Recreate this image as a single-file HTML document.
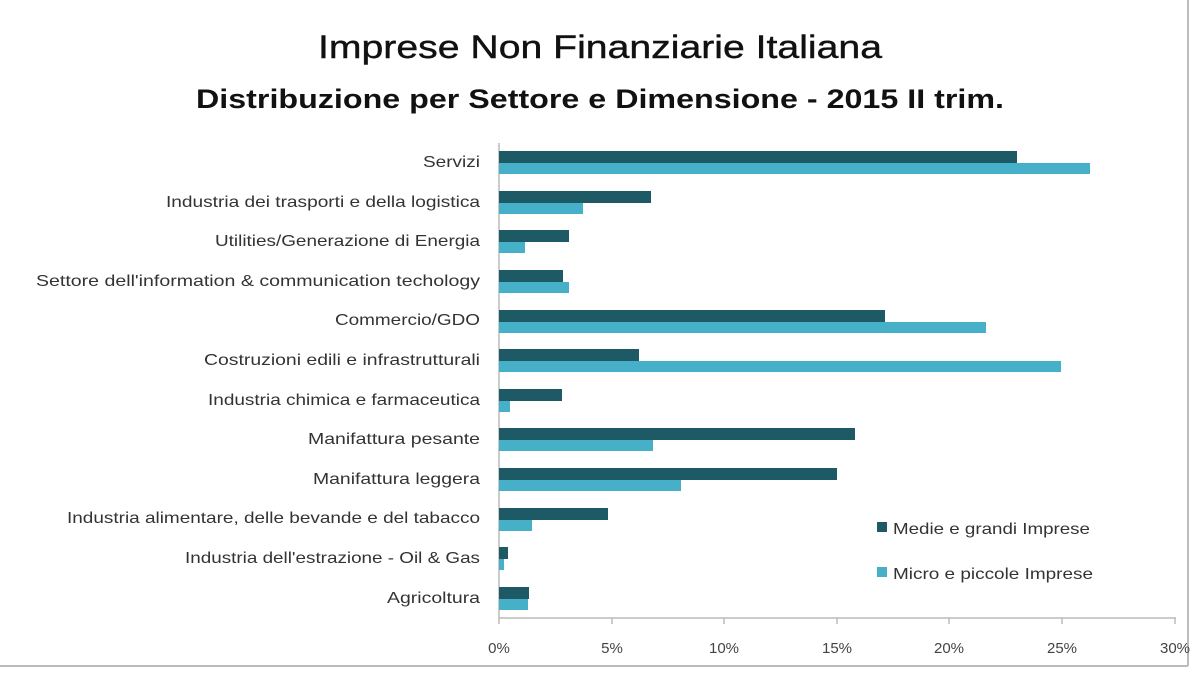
<!DOCTYPE html>
<html><head><meta charset="utf-8"><style>
html,body{margin:0;padding:0;background:#fff;}
svg{display:block;font-family:"Liberation Sans",sans-serif;}
</style></head><body>
<svg width="1200" height="676" viewBox="0 0 1200 676">
<rect x="0" y="0" width="1200" height="676" fill="#fff"/>
<line x1="1188" y1="0" x2="1188" y2="666" stroke="#bbb" stroke-width="2"/>
<line x1="0" y1="666" x2="1188" y2="666" stroke="#bbb" stroke-width="2"/>
<text x="600" y="58" text-anchor="middle" font-size="32" fill="#111" stroke="#111" stroke-width="0.4" textLength="564" lengthAdjust="spacingAndGlyphs">Imprese Non Finanziarie Italiana</text>
<text x="600" y="108" text-anchor="middle" font-size="27" font-weight="bold" fill="#111" textLength="808" lengthAdjust="spacingAndGlyphs">Distribuzione per Settore e Dimensione - 2015 II trim.</text>
<g stroke="#bbb" stroke-width="1.5">
<line x1="499" y1="143" x2="499" y2="618"/>
<line x1="499" y1="618" x2="1176" y2="618"/>
<line x1="612" y1="618" x2="612" y2="624"/><line x1="724" y1="618" x2="724" y2="624"/>
<line x1="837" y1="618" x2="837" y2="624"/><line x1="949" y1="618" x2="949" y2="624"/>
<line x1="1062" y1="618" x2="1062" y2="624"/><line x1="1175" y1="618" x2="1175" y2="624"/>
<line x1="499" y1="618" x2="499" y2="624"/>
</g>
<g font-size="15" fill="#444" text-anchor="middle">
<text x="499" y="653">0%</text><text x="612" y="653">5%</text><text x="724" y="653">10%</text>
<text x="837" y="653">15%</text><text x="949" y="653">20%</text><text x="1062" y="653">25%</text><text x="1175" y="653">30%</text>
</g>
<g font-size="16" fill="#333" text-anchor="end">
<text x="480" y="167" textLength="57" lengthAdjust="spacingAndGlyphs">Servizi</text>
<text x="480" y="207" textLength="314" lengthAdjust="spacingAndGlyphs">Industria dei trasporti e della logistica</text>
<text x="480" y="246" textLength="265" lengthAdjust="spacingAndGlyphs">Utilities/Generazione di Energia</text>
<text x="480" y="286" textLength="444" lengthAdjust="spacingAndGlyphs">Settore dell'information &amp; communication techology</text>
<text x="480" y="325" textLength="145" lengthAdjust="spacingAndGlyphs">Commercio/GDO</text>
<text x="480" y="365" textLength="276" lengthAdjust="spacingAndGlyphs">Costruzioni edili e infrastrutturali</text>
<text x="480" y="405" textLength="272" lengthAdjust="spacingAndGlyphs">Industria chimica e farmaceutica</text>
<text x="480" y="444" textLength="172" lengthAdjust="spacingAndGlyphs">Manifattura pesante</text>
<text x="480" y="484" textLength="167" lengthAdjust="spacingAndGlyphs">Manifattura leggera</text>
<text x="480" y="523" textLength="413" lengthAdjust="spacingAndGlyphs">Industria alimentare, delle bevande e del tabacco</text>
<text x="480" y="563" textLength="295" lengthAdjust="spacingAndGlyphs">Industria dell'estrazione - Oil &amp; Gas</text>
<text x="480" y="603" textLength="93" lengthAdjust="spacingAndGlyphs">Agricoltura</text>
</g>
<g fill="#1e5a66">
<rect x="499" y="151" width="518" height="12"/>
<rect x="499" y="191" width="152" height="12"/>
<rect x="499" y="230" width="70" height="12"/>
<rect x="499" y="270" width="64" height="12"/>
<rect x="499" y="310" width="386" height="12"/>
<rect x="499" y="349" width="140" height="12"/>
<rect x="499" y="389" width="63" height="12"/>
<rect x="499" y="428" width="356" height="12"/>
<rect x="499" y="468" width="338" height="12"/>
<rect x="499" y="508" width="109" height="12"/>
<rect x="499" y="547" width="9" height="12"/>
<rect x="499" y="587" width="30" height="12"/>
</g>
<g fill="#45b0c8">
<rect x="499" y="163" width="591" height="11"/>
<rect x="499" y="203" width="84" height="11"/>
<rect x="499" y="242" width="26" height="11"/>
<rect x="499" y="282" width="70" height="11"/>
<rect x="499" y="322" width="487" height="11"/>
<rect x="499" y="361" width="562" height="11"/>
<rect x="499" y="401" width="11" height="11"/>
<rect x="499" y="440" width="154" height="11"/>
<rect x="499" y="480" width="182" height="11"/>
<rect x="499" y="520" width="33" height="11"/>
<rect x="499" y="559" width="5" height="11"/>
<rect x="499" y="599" width="29" height="11"/>
</g>
<rect x="877" y="522" width="10" height="10" fill="#1e5a66"/>
<text x="893" y="534" font-size="16" fill="#333" textLength="197" lengthAdjust="spacingAndGlyphs">Medie e grandi Imprese</text>
<rect x="877" y="567" width="10" height="10" fill="#45b0c8"/>
<text x="893" y="579" font-size="16" fill="#333" textLength="200" lengthAdjust="spacingAndGlyphs">Micro e piccole Imprese</text>
</svg>
</body></html>
